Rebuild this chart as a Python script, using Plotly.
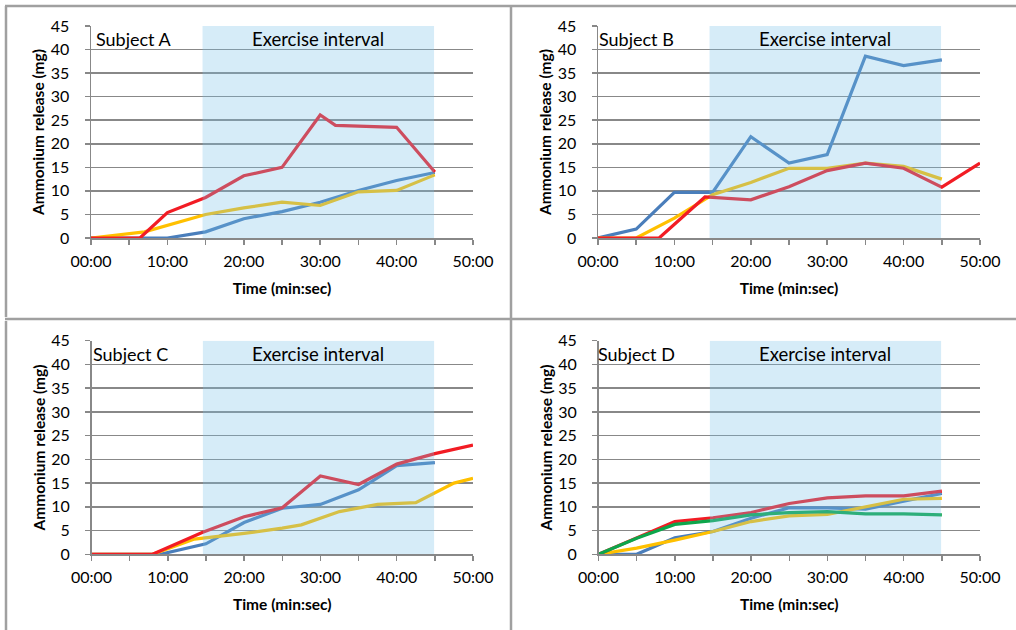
import plotly.graph_objects as go

# ---------------- data ----------------
tick_minutes = [0, 5, 10, 15, 20, 25, 30, 35, 40, 45, 50]
tick_labels = ["00:00", "", "10:00", "", "20:00", "", "30:00", "", "40:00", "", "50:00"]
y_ticks = [0, 5, 10, 15, 20, 25, 30, 35, 40, 45]

exercise_start = 14.6
exercise_end = 44.9

subjects = ["Subject A", "Subject B", "Subject C", "Subject D"]

# Subject A
a_blue_t = [0, 10, 15, 20, 25, 30, 35, 40, 45]
a_blue_y = [0, 0, 1.3, 4.1, 5.6, 7.6, 10.1, 12.2, 13.9]
a_yellow_t = [0, 7, 15, 20, 25, 30, 35, 40, 45]
a_yellow_y = [0, 1.3, 5.0, 6.4, 7.6, 6.9, 9.8, 10.1, 13.4]
a_red_t = [0, 6.4, 10, 15, 20, 25, 30, 32, 40, 45]
a_red_y = [0, 0, 5.4, 8.6, 13.2, 15.0, 26.1, 23.9, 23.5, 14.0]

# Subject B
b_blue_t = [0, 5, 10, 15, 20, 25, 30, 35, 40, 45]
b_blue_y = [0, 1.9, 9.7, 9.7, 21.5, 15.9, 17.7, 38.6, 36.6, 37.8]
b_yellow_t = [0, 5, 10, 15, 20, 25, 30, 35, 40, 45]
b_yellow_y = [0, 0, 4.2, 9.2, 11.8, 14.8, 14.8, 15.9, 15.2, 12.5]
b_red_t = [0, 8, 14, 20, 25, 30, 35, 40, 45, 50]
b_red_y = [0, 0, 8.7, 8.1, 10.9, 14.3, 15.9, 14.8, 10.8, 15.9]

# Subject C
c_blue_t = [0, 9, 15, 20, 25, 30, 35, 40, 45]
c_blue_y = [0, 0, 2.2, 6.7, 9.7, 10.5, 13.6, 18.7, 19.3]
c_yellow_t = [0, 8, 13.5, 20, 25, 27.5, 32.5, 37.5, 42.5, 47.5, 50]
c_yellow_y = [0, 0, 3.2, 4.4, 5.5, 6.2, 9.0, 10.5, 10.9, 15.0, 16.0]
c_red_t = [0, 8, 14.5, 20, 25, 30, 35, 40, 45, 50]
c_red_y = [0, 0, 4.6, 7.9, 9.8, 16.5, 14.7, 19.0, 21.2, 23.0]

# Subject D
d_t = [0, 5, 10, 15, 20, 25, 30, 35, 40, 45]
d_blue_y = [0, 0, 3.5, 4.8, 7.6, 9.8, 9.8, 9.5, 11.2, 12.8]
d_yellow_y = [0, 1.3, 3.0, 4.8, 6.9, 8.1, 8.4, 10.0, 11.6, 11.8]
d_red_y = [0, 3.4, 6.9, 7.7, 8.8, 10.7, 11.9, 12.3, 12.3, 13.3]
d_green_y = [0, 3.4, 6.3, 7.1, 8.3, 8.8, 9.0, 8.5, 8.5, 8.3]

# ---------------- styles ----------------
COLORS = {"blue": "#4A7EBB", "yellow": "#FFC000", "red": "#F21C24", "green": "#0DA64B"}
FONT = "Lato, 'Open Sans', sans-serif"
GRID = "#888888"

panels = [
    [("blue", a_blue_t, a_blue_y), ("yellow", a_yellow_t, a_yellow_y), ("red", a_red_t, a_red_y)],
    [("blue", b_blue_t, b_blue_y), ("yellow", b_yellow_t, b_yellow_y), ("red", b_red_t, b_red_y)],
    [("blue", c_blue_t, c_blue_y), ("yellow", c_yellow_t, c_yellow_y), ("red", c_red_t, c_red_y)],
    [("blue", d_t, d_blue_y), ("yellow", d_t, d_yellow_y), ("red", d_t, d_red_y), ("green", d_t, d_green_y)],
]

W, H = 1016, 630
x_domains = [[91 / W, 473 / W], [598 / W, 980 / W], [91.5 / W, 473 / W], [598.5 / W, 980 / W]]
y_domains = [[1 - 238 / H, 1 - 26 / H], [1 - 238 / H, 1 - 26 / H],
             [1 - 554.3 / H, 1 - 340.7 / H], [1 - 554.3 / H, 1 - 340.7 / H]]
subject_shift = [3, -1, -1, -3]

fig = go.Figure()
layout = dict(
    width=W, height=H,
    margin=dict(l=0, r=0, t=0, b=0, autoexpand=False),
    paper_bgcolor="white", plot_bgcolor="rgba(0,0,0,0)",
    showlegend=False,
    font=dict(family=FONT, color="#000000"),
    shapes=[], annotations=[],
)

for i, series in enumerate(panels):
    n = "" if i == 0 else str(i + 1)
    xa, ya = "x" + n, "y" + n
    for name, t, y in series:
        fig.add_trace(go.Scatter(
            x=t, y=y, mode="lines", name=name.title(),
            line=dict(color=COLORS[name], width=3.2),
            xaxis=xa, yaxis=ya, hoverinfo="skip",
        ))
    layout["xaxis" + n] = dict(
        domain=x_domains[i], anchor=ya, range=[0, 50], automargin=False,
        tickmode="array", tickvals=tick_minutes, ticktext=tick_labels,
        ticks="outside", ticklen=5, tickwidth=1.5, tickcolor=GRID,
        showline=True, linecolor=GRID, linewidth=1.5,
        showgrid=False, zeroline=False,
        tickfont=dict(family=FONT, size=16, color="#000000"),
        ticklabelstandoff=3,
        title=dict(text="<b>Time (min:sec)</b>", font=dict(family=FONT, size=15.5), standoff=14),
    )
    layout["yaxis" + n] = dict(
        domain=y_domains[i], anchor=xa, range=[0, 45], automargin=False,
        tickmode="array", tickvals=y_ticks,
        ticks="outside", ticklen=5, tickwidth=1.5, tickcolor=GRID,
        showline=True, linecolor=GRID, linewidth=1.5,
        showgrid=True, gridcolor=GRID, gridwidth=1.5, zeroline=False,
        tickfont=dict(family=FONT, size=16, color="#000000"),
        ticklabelstandoff=12,
        title=dict(text="<b>Ammonium release (mg)</b>", font=dict(family=FONT, size=15.5), standoff=2),
    )
    # exercise interval shading (drawn above the lines, semi-transparent)
    layout["shapes"].append(dict(
        type="rect", xref=xa, yref=ya, x0=exercise_start, x1=exercise_end, y0=0, y1=45,
        fillcolor="rgb(118,192,232)", opacity=0.3, line=dict(width=0), layer="above",
    ))
    layout["annotations"].append(dict(
        xref=xa, yref=ya, x=0, y=42.2, xshift=subject_shift[i], text=subjects[i], showarrow=False,
        xanchor="left", yanchor="middle", font=dict(family=FONT, size=18, color="#000000"),
    ))
    layout["annotations"].append(dict(
        xref=xa, yref=ya, x=(exercise_start + exercise_end) / 2, y=42.2, text="Exercise interval",
        showarrow=False, xanchor="center", yanchor="middle",
        font=dict(family=FONT, size=18.5, color="#000000"),
    ))

# panel frame lines
BORDER = "#A0A0A0"
def px_x(v):
    return v / W
def px_y(v):
    return 1 - v / H
frame = [
    (5, 6, W, 6), (6, 6, 6, 317), (6, 321, 6, H), (5, 319, W, 319), (511, 6, 511, H),
]
for x0, y0, x1, y1 in frame:
    layout["shapes"].append(dict(
        type="line", xref="paper", yref="paper",
        x0=px_x(x0), y0=px_y(y0), x1=px_x(x1), y1=px_y(y1),
        line=dict(color=BORDER, width=2.5), layer="above",
    ))

fig.update_layout(**layout)
fig.write_html(
    "out.html",
    config={"displayModeBar": False, "staticPlot": True},
    post_script="document.body.style.margin='0';document.body.style.padding='0';",
)
